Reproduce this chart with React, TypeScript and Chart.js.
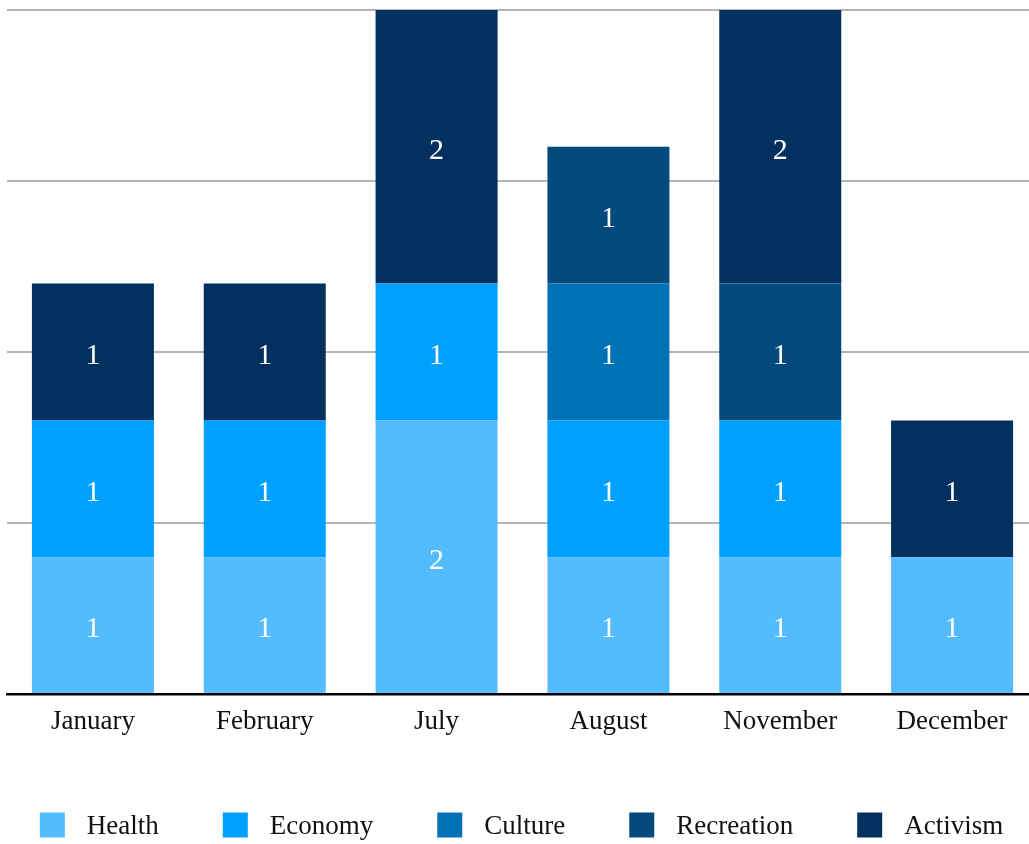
import React, { useEffect, useRef } from "react";
import { Chart, registerables } from "chart.js";

Chart.register(...registerables);

const categories = ["January", "February", "July", "August", "November", "December"];
const seriesNames = ["Health", "Economy", "Culture", "Recreation", "Activism"];
const health = [1, 1, 2, 1, 1, 1];
const economy = [1, 1, 1, 1, 1, 0];
const culture = [0, 0, 0, 1, 0, 0];
const recreation = [0, 0, 0, 1, 1, 0];
const activism = [1, 1, 2, 0, 2, 1];
const colors = ["#55bbff", "#00a0ff", "#0072b5", "#044a7c", "#03315f"];
const yTicks = [0, 1.25, 2.5, 3.75, 5];

const FONT = '"Liberation Serif", "Times New Roman", serif';

const valueLabels = {
  id: "valueLabels",
  afterDatasetsDraw(chart: any) {
    const ctx = chart.ctx;
    ctx.save();
    ctx.fillStyle = "#ffffff";
    ctx.font = `30px ${FONT}`;
    ctx.textAlign = "center";
    ctx.textBaseline = "middle";
    chart.data.datasets.forEach((ds: any, di: number) => {
      const meta = chart.getDatasetMeta(di);
      meta.data.forEach((el: any, i: number) => {
        const v = ds.data[i];
        if (!v) return;
        const y = (el.y + el.base) / 2;
        ctx.fillText(String(v), el.x, y + 4);
      });
    });
    ctx.restore();
  },
};

const customLegend = {
  id: "customLegend",
  afterDraw(chart: any) {
    const ctx = chart.ctx;
    ctx.save();
    ctx.font = `27px ${FONT}`;
    const box = 25;
    const gap = 22;
    const pad = 64;
    const widths = seriesNames.map((n) => ctx.measureText(n).width);
    let total = 0;
    widths.forEach((w, i) => {
      total += box + gap + w + (i < widths.length - 1 ? pad : 0);
    });
    let x = chart.width / 2 - total / 2 - 1;
    const cy = 825;
    ctx.textBaseline = "middle";
    ctx.textAlign = "left";
    seriesNames.forEach((n, i) => {
      ctx.fillStyle = colors[i];
      ctx.fillRect(x, cy - box / 2, box, box);
      ctx.fillStyle = "#111111";
      ctx.fillText(n, x + box + gap, cy + 2);
      x += box + gap + widths[i] + pad;
    });
    ctx.restore();
  },
};

export default function App() {
  const ref = useRef<HTMLCanvasElement | null>(null);
  useEffect(() => {
    if (!ref.current) return;
    const series = [health, economy, culture, recreation, activism];
    const chart = new Chart(ref.current, {
      type: "bar",
      data: {
        labels: categories,
        datasets: seriesNames.map((name, i) => ({
          label: name,
          data: series[i],
          backgroundColor: colors[i],
          borderWidth: 0,
          barPercentage: 0.71,
          categoryPercentage: 1,
        })),
      },
      options: {
        animation: false,
        responsive: false,
        maintainAspectRatio: false,
        layout: { padding: { left: 7, right: 7, top: 10, bottom: 0 } },
        plugins: {
          legend: { display: false },
          tooltip: { enabled: false },
        },
        scales: {
          x: {
            stacked: true,
            grid: { display: false, drawTicks: false },
            border: { display: true, color: "#000000", width: 2.5 },
            ticks: {
              color: "#111111",
              font: { family: FONT, size: 27 },
              padding: 12,
              maxRotation: 0,
            },
            afterFit: (scale: any) => {
              scale.height = 150;
            },
          },
          y: {
            stacked: true,
            min: 0,
            max: 5,
            afterBuildTicks: (scale: any) => {
              scale.ticks = yTicks.map((v) => ({ value: v }));
            },
            grid: { color: "#b5b5b5", lineWidth: 2, drawTicks: false },
            border: { display: false },
            ticks: { display: false },
            afterFit: (scale: any) => {
              scale.width = 0;
            },
          },
        },
      },
      plugins: [valueLabels, customLegend],
    });
    return () => chart.destroy();
  }, []);
  return (
    <div style={{ position: "absolute", left: 0, top: 0, width: 1029, height: 844, overflow: "hidden", background: "#ffffff" }}>
      <canvas ref={ref} width={1045} height={844} style={{ display: "block", width: 1045, height: 844 }} />
    </div>
  );
}
